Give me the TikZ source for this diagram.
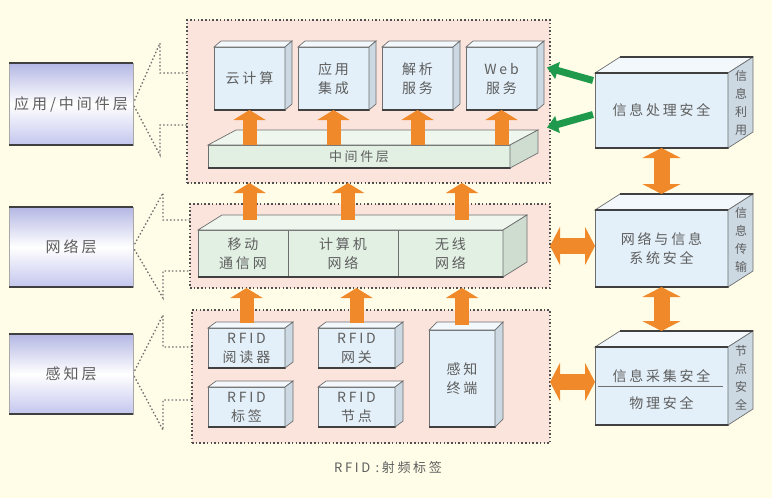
\documentclass[tikz,border=0pt]{standalone}
\usepackage{fontspec}
\newfontfamily\cjk[LetterSpace=20]{Noto Sans CJK SC}
\usetikzlibrary{arrows.meta}

\definecolor{bgcream}{HTML}{FFFDE8}
\definecolor{regionpink}{HTML}{FBE4DC}
\definecolor{dotgray}{HTML}{4F4F4F}
\definecolor{textgray}{HTML}{5E5E5E}
\definecolor{edgegray}{HTML}{6E6E6E}
\definecolor{bluefront}{HTML}{E3F0F9}
\definecolor{bluetop}{HTML}{F2F8FC}
\definecolor{blueside}{HTML}{CCD9E3}
\definecolor{greenfront}{HTML}{E2F0E4}
\definecolor{greentop}{HTML}{EEF6EE}
\definecolor{greenside}{HTML}{CFDDD1}
\definecolor{layertop}{HTML}{B4B7E4}
\definecolor{layerbot}{HTML}{C4C6EE}
\definecolor{arrowor}{HTML}{F0892A}
\definecolor{arrowgreen}{HTML}{1F9A4C}

\tikzset{
  label text/.style={font=\cjk\fontsize{14}{19}\selectfont, text=textgray, align=center},
  region/.style={fill=regionpink, draw=dotgray, line width=1.4pt, dash pattern=on 1.5pt off 2.2pt, inner sep=0, outer sep=0},
  layerbox/.style={label text, font=\cjk\fontsize{15}{18}\selectfont, draw=edgegray!60, line width=0.6pt, top color=layertop, bottom color=layerbot, middle color=white, minimum width=124, outer sep=0},
  bluebox/.style={label text, fill=bluefront, draw=edgegray, line width=0.7pt, inner sep=0, outer sep=0},
  greenbox/.style={bluebox, fill=greenfront},
  face/.style={fill=#1, draw=edgegray, line width=0.7pt},
  dark edge/.style={draw=black!75, line width=1.6pt},
  bracket/.style={draw=edgegray, line width=1.3pt, dash pattern=on 1.5pt off 2.2pt},
  orarrow/.style={draw=arrowor, line width=14pt, -{Triangle[length=10pt,width=32pt]}},
  ordouble/.style={draw=arrowor, line width=16pt, {Triangle[length=10pt,width=38pt]}-{Triangle[length=10pt,width=38pt]}},
  greenarrow/.style={draw=arrowgreen, line width=7pt, -{Triangle[length=11pt,width=17pt]}},
  sidetext/.style={label text, font=\cjk\fontsize{12}{18}\selectfont},
}

\begin{document}
\begin{tikzpicture}[x=1pt, y=-1pt]
    \useasboundingbox[fill=bgcream] (0,0) rectangle (772,498);

    % Dotted layer regions
    \node[region, minimum width=363, minimum height=163] (rtop) at (368.5,101.5) {};
    \node[region, minimum width=360, minimum height=84] (rnet) at (370,246) {};
    \node[region, minimum width=358, minimum height=133] (rsen) at (371,376.5) {};

    % Open dotted arrows towards the layer names
    \draw[bracket] (187,73) -- (160,73) -- (160,43) -- (133,104) -- (160,155) -- (160,125) -- (187,125);
    \draw[bracket] (190,220) -- (163,220) -- (163,193) -- (133,247) -- (163,298) -- (163,271) -- (190,271);
    \draw[bracket] (192,347) -- (163,347) -- (163,315) -- (133,374) -- (163,430) -- (163,400) -- (192,400);

    % Layer names
    \node[layerbox, minimum height=82] (lapp) at (71,104) {应用/中间件层};
    \node[layerbox, minimum height=80] (lnet) at (71,247) {网络层};
    \node[layerbox, minimum height=80] (lsen) at (71,374) {感知层};
    \foreach \n in {lapp,lnet,lsen} {
        \draw[dark edge, line width=1.2pt] (\n.north west) -- (\n.north east);
        \draw[dark edge, line width=2.2pt] (\n.south west) -- (\n.south east);
    }

    % Application / middleware layer
    \node[bluebox, minimum width=71, minimum height=63] (cloud) at (249.5,78.5) {云计算};
    \node[bluebox, minimum width=71, minimum height=63] (integ) at (333.5,78.5) {应用\\集成};
    \node[bluebox, minimum width=71, minimum height=63] (parse) at (417.5,78.5) {解析\\服务};
    \node[bluebox, minimum width=71, minimum height=63] (web) at (501.5,78.5) {Web\\服务};
    \node[greenbox, minimum width=302, minimum height=23, font=\cjk\fontsize{13}{15}\selectfont] (mw) at (359,156.5) {中间件层};

    % Network layer
    \node[greenbox, minimum width=90, minimum height=47] (nmob) at (243,253.5) {移动\\通信网};
    \node[greenbox, minimum width=110, minimum height=47] (ncomp) at (343,253.5) {计算机\\网络};
    \node[greenbox, minimum width=105, minimum height=47] (nwls) at (450.5,253.5) {无线\\网络};
    \filldraw[face=greentop] (nmob.north west) -- ([shift={(24,-15)}]nmob.north west)
        -- ([shift={(24,-15)}]nwls.north east) -- (nwls.north east) -- cycle;
    \filldraw[face=greenside] (nwls.north east) -- ([shift={(24,-15)}]nwls.north east)
        -- ([shift={(24,-15)}]nwls.south east) -- (nwls.south east) -- cycle;
    \draw[dark edge] (nmob.south west) -- (nwls.south east);

    % Perception layer
    \node[bluebox, minimum width=77, minimum height=40] (reader) at (246.5,348) {RFID\\阅读器};
    \node[bluebox, minimum width=77, minimum height=40] (tag) at (246.5,407) {RFID\\标签};
    \node[bluebox, minimum width=77, minimum height=40] (gateway) at (356.5,348) {RFID\\网关};
    \node[bluebox, minimum width=77, minimum height=40] (rnode) at (356.5,407) {RFID\\节点};
    \node[bluebox, minimum width=66, minimum height=97] (term) at (462,378.5) {感知\\终端};

    % Security column
    \node[bluebox, minimum width=133, minimum height=75] (sproc) at (661.5,110.5) {信息处理安全};
    \node[bluebox, minimum width=133, minimum height=77] (snet) at (661.5,248.5) {网络与信息\\系统安全};
    \node[bluebox, minimum width=133, minimum height=78] (sphy) at (661.5,386) {};

    % Top and side faces of the boxes
    \foreach \n/\dx/\dy/\ct/\cs in {cloud/7/6/bluetop/blueside, integ/7/6/bluetop/blueside,
            parse/7/6/bluetop/blueside, web/7/6/bluetop/blueside, mw/28/15/greentop/greenside,
            reader/8/6/bluetop/blueside, tag/8/6/bluetop/blueside, gateway/8/6/bluetop/blueside,
            rnode/8/6/bluetop/blueside, term/8/8/bluetop/blueside, sproc/25/16/bluetop/blueside,
            snet/25/16/bluetop/blueside, sphy/25/16/bluetop/blueside} {
        \filldraw[face=\ct] (\n.north west) -- ([shift={(\dx,-\dy)}]\n.north west)
            -- ([shift={(\dx,-\dy)}]\n.north east) -- (\n.north east) -- cycle;
        \filldraw[face=\cs] (\n.north east) -- ([shift={(\dx,-\dy)}]\n.north east)
            -- ([shift={(\dx,-\dy)}]\n.south east) -- (\n.south east) -- cycle;
        \draw[dark edge] (\n.south west) -- (\n.south east);
    }
    \foreach \n in {sproc,snet,sphy} {
        \draw[dark edge] (\n.north west) -- (\n.north east);
        \draw[dark edge] ([shift={(25,-16)}]\n.north west) -- ([shift={(25,-16)}]\n.north east);
    }

    % Texts of the security boxes
    \node[label text] (scoll) at (661.5,376) {信息采集安全};
    \node[label text] (sbody) at (661.5,403) {物理安全};
    \draw[edgegray, line width=1pt] ([xshift=3pt]sphy.west) -- ([xshift=-5pt]sphy.east);
    \node[sidetext] (sproct) at (741,103) {信\\息\\利\\用};
    \node[sidetext] (snett) at (741,240) {信\\息\\传\\输};
    \node[sidetext] (sphyt) at (741,378) {节\\点\\安\\全};

    % Orange arrows
    \foreach \n in {cloud,integ,parse,web}
        \draw[orarrow] (mw.north -| \n.south) -- (\n.south);
    \draw[orarrow] ([yshift=10pt]nmob.north -| cloud.south) -- (rtop.south -| cloud.south);
    \draw[orarrow] ([shift={(5pt,10pt)}]ncomp.north) -- ([xshift=5pt]rtop.south -| ncomp.north);
    \draw[orarrow] ([yshift=10pt]nwls.north -| term.north) -- (rtop.south -| term.north);
    \foreach \n in {reader,gateway,term}
        \draw[orarrow] ([yshift=5pt]\n.north) -- (rnet.south -| \n.north);
    \draw[ordouble] (sproc.south) -- ([yshift=16pt]snet.north);
    \draw[ordouble] (snet.south) -- ([yshift=16pt]sphy.north);
    \draw[ordouble] (rnet.east) -- (rnet.east -| snet.west);
    \draw[ordouble] ([yshift=4pt]sphy.west -| rsen.east) -- ([yshift=4pt]sphy.west);

    % Green arrows
    \draw[greenarrow] ([shift={(-2pt,30pt)}]sproc.west) -- ([shift={(-3pt,34pt)}]rtop.east);
    \draw[greenarrow] ([shift={(-2pt,-4pt)}]sproc.west) -- ([shift={(-3pt,-26pt)}]rtop.east);

    % Note
    \node[label text, font=\cjk\fontsize{13}{15}\selectfont] (note) at (388,468) {RFID :射频标签};
\end{tikzpicture}
\end{document}
